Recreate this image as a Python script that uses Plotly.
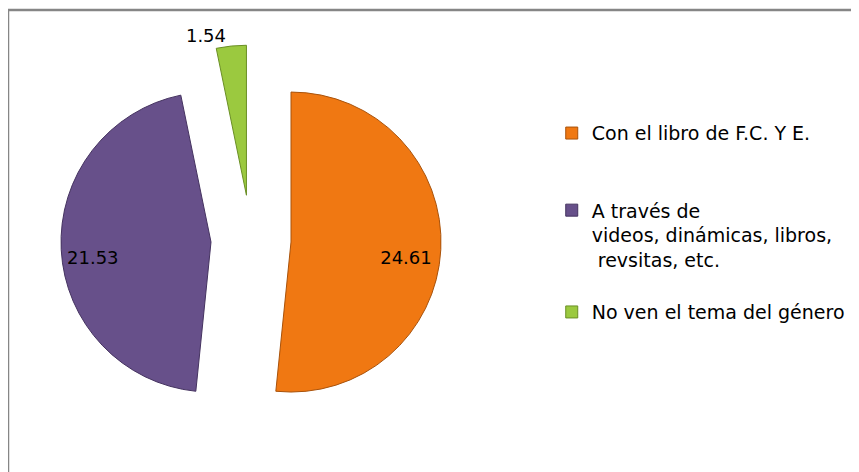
import plotly.graph_objects as go

labels = ["Con el libro de F.C. Y E.",
          "A través de<br>videos, dinámicas, libros,<br> revsitas, etc.",
          "No ven el tema del género"]
legend_pad = ["<br>\u00a0<br>\u00a0", "<br>\u00a0", ""]
values = [24.61, 21.53, 1.54]
colors = ["#F07812", "#67508A", "#9BC93F"]
edge_colors = ["#A9520A", "#453360", "#6A8F25"]
pulls = [0.267, 0.267, 0.3]
text_positions = ["inside", "inside", "outside"]

NB = "\u00a0"
text_templates = [NB + "<br>" + NB * 14 + "%{value}",
                  NB + "<br>" + "%{value}" + NB * 15,
                  "%{value}"]

fig = go.Figure(go.Pie(
    labels=[l + p for l, p in zip(labels, legend_pad)],
    values=values,
    sort=False,
    direction="clockwise",
    rotation=0,
    pull=pulls,
    marker=dict(colors=colors, line=dict(color=edge_colors, width=1)),
    texttemplate=text_templates,
    textposition=text_positions,
    insidetextorientation="horizontal",
    textfont=dict(family="DejaVu Sans", size=18, color="#000000"),
    hoverinfo="label+value",
    domain=dict(x=[0.0559, 0.5099], y=[0.0953, 0.9216]),
))

fig.update_layout(
    width=859, height=472,
    autosize=False,
    margin=dict(l=0, r=0, t=0, b=0, pad=0, autoexpand=False),
    paper_bgcolor="#FFFFFF",
    plot_bgcolor="#FFFFFF",
    showlegend=True,
    legend=dict(
        x=0.633, y=0.775, xanchor="left", yanchor="top",
        font=dict(family="DejaVu Sans", size=19, color="#000000"),
        valign="top",
        bgcolor="rgba(0,0,0,0)",
    ),
    shapes=[dict(type="rect", xref="paper", yref="paper",
                 x0=0.0, x1=1.02, y0=-0.02, y1=1 - 2 / 472,
                 line=dict(color="#868686", width=2.5))],
)

fig.write_html("out.html", config={"responsive": False})
